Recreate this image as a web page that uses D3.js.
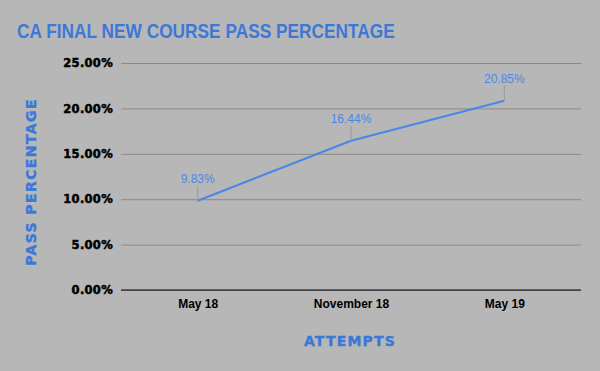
<!DOCTYPE html>
<html lang="en">
<head>
<meta charset="UTF-8">
<title>CA Final New Course Pass Percentage</title>
<style>
  body { margin: 0; background: #b7b7b7; }
  svg { display: block; }
</style>
</head>
<body>
<svg id="chart" width="600" height="371"></svg>
<script src="https://d3js.org/d3.v7.min.js"></script>
<script>
// chart data
var attempts = ["May 18", "November 18", "May 19"];
var passPct = [9.83, 16.44, 20.85];
var yTicks = [0, 5, 10, 15, 20, 25];

var svg = d3.select("#chart"),
    width = 600,
    height = 371,
    margin = { top: 63, right: 19, bottom: 81, left: 121 };

svg.append("rect").attr("width", width).attr("height", height).attr("fill", "#b7b7b7");

var x = d3.scalePoint().domain(attempts).range([margin.left, width - margin.right]).padding(0.5);
var y = d3.scaleLinear().domain([0, 25]).range([height - margin.bottom, margin.top]);

// title (slightly condensed like the original)
svg.append("text")
    .attr("transform", "translate(17,38) scale(0.865,1)")
    .attr("fill", "#3c78d8")
    .style("font", "bold 20px 'Liberation Sans', Arial, sans-serif")
    .text("CA FINAL NEW COURSE PASS PERCENTAGE");

// gridlines + y labels
var yAxis = svg.append("g")
    .attr("transform", "translate(" + margin.left + ",0)")
    .call(d3.axisLeft(y).tickValues(yTicks)
        .tickSize(-(width - margin.left - margin.right))
        .tickPadding(8)
        .tickFormat(function(d) { return d3.format(".2f")(d) + "%"; }));
yAxis.select(".domain").remove();
yAxis.selectAll(".tick line").attr("stroke", "#8a8a8a");
yAxis.selectAll(".tick text")
    .attr("fill", "#000")
    .attr("stroke", "#000").attr("stroke-width", 0.5)
    .style("font", "bold 11.5px 'DejaVu Sans', sans-serif")
    .style("letter-spacing", "0.3px");

// baseline
svg.append("line")
    .attr("x1", margin.left).attr("x2", width - margin.right)
    .attr("y1", y(0)).attr("y2", y(0))
    .attr("stroke", "#000").attr("stroke-width", 1);

// x labels
var xAxis = svg.append("g")
    .attr("transform", "translate(0," + y(0) + ")")
    .call(d3.axisBottom(x).tickSize(0).tickPadding(9));
xAxis.select(".domain").remove();
xAxis.selectAll(".tick text")
    .attr("fill", "#000")
    .style("font", "bold 12px 'Liberation Sans', Arial, sans-serif");

// axis titles
svg.append("text")
    .attr("x", 350).attr("y", 346)
    .attr("text-anchor", "middle")
    .attr("fill", "#3c78d8")
    .attr("stroke", "#3c78d8").attr("stroke-width", 0.4)
    .style("font", "bold 14px 'DejaVu Sans', sans-serif")
    .style("letter-spacing", "1.2px")
    .text("ATTEMPTS");

svg.append("text")
    .attr("transform", "translate(36,182) rotate(-90)")
    .attr("text-anchor", "middle")
    .attr("fill", "#3c78d8")
    .attr("stroke", "#3c78d8").attr("stroke-width", 0.4)
    .style("font", "bold 14px 'DejaVu Sans', sans-serif")
    .style("letter-spacing", "1.4px")
    .text("PASS PERCENTAGE");

// line
var line = d3.line()
    .x(function(d, i) { return x(attempts[i]); })
    .y(function(d) { return y(d); });

svg.append("path")
    .datum(passPct)
    .attr("fill", "none")
    .attr("stroke", "#4a86e8")
    .attr("stroke-width", 2)
    .attr("d", line);

// data labels with leader lines
var lbl = svg.append("g").selectAll("g").data(passPct).enter().append("g");
lbl.append("line")
    .attr("x1", function(d, i) { return x(attempts[i]); })
    .attr("x2", function(d, i) { return x(attempts[i]); })
    .attr("y1", function(d) { return y(d); })
    .attr("y2", function(d) { return y(d) - 15; })
    .attr("stroke", "#9a9a9a");
lbl.append("text")
    .attr("x", function(d, i) { return x(attempts[i]); })
    .attr("y", function(d) { return y(d) - 18; })
    .attr("text-anchor", "middle")
    .attr("fill", "#4a86e8")
    .style("font", "12px 'Liberation Sans', Arial, sans-serif")
    .text(function(d) { return d.toFixed(2) + "%"; });
</script>
</body>
</html>
